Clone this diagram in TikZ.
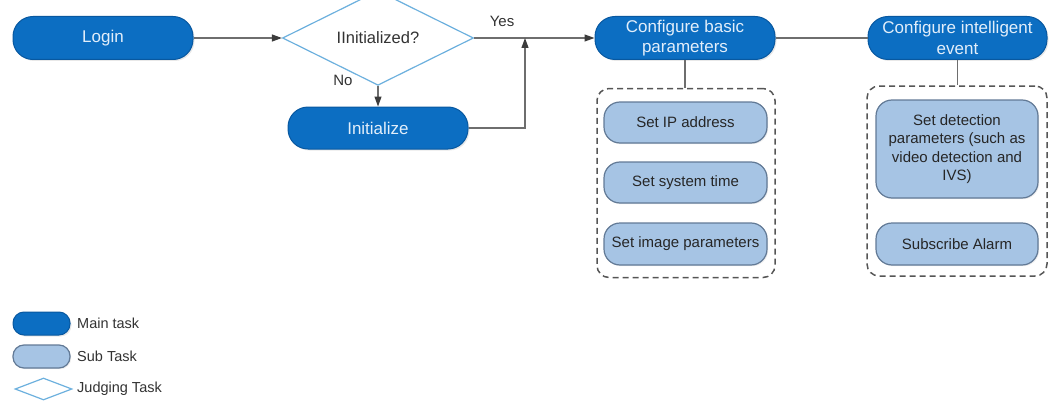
\documentclass[tikz,border=0pt]{standalone}
\usepackage{fontspec}
\setmainfont{Liberation Sans}
\usetikzlibrary{arrows.meta,shapes.geometric,shadows}
\definecolor{mainfill}{RGB}{12,110,194}
\definecolor{maindraw}{RGB}{8,88,160}
\definecolor{maintext}{RGB}{226,238,250}
\definecolor{subfill}{RGB}{166,196,228}
\definecolor{subdraw}{RGB}{98,122,150}
\definecolor{judgedraw}{RGB}{108,176,222}
\definecolor{linegray}{RGB}{110,110,110}
\definecolor{tipgray}{RGB}{60,60,60}
\definecolor{dashgray}{RGB}{85,85,85}
\definecolor{labelgray}{RGB}{50,50,50}
\tikzset{
  mainbox/.style={rectangle, rounded corners=20pt, fill=mainfill, draw=maindraw, line width=1pt,
    text=maintext, align=center, inner sep=0pt, font=\fontsize{17}{20.5}\selectfont,
    drop shadow={opacity=0.18, shadow xshift=1.5pt, shadow yshift=-1.5pt}},
  subbox/.style={rectangle, rounded corners=16pt, fill=subfill, draw=subdraw, line width=1.2pt,
    text=black!85, align=center, inner sep=0pt, minimum width=163pt, font=\fontsize{15}{18.5}\selectfont,
    drop shadow={opacity=0.15, shadow xshift=1.2pt, shadow yshift=-1.2pt}},
  judgebox/.style={diamond, draw=judgedraw, line width=1.2pt, fill=white, inner sep=0pt,
    text=black!80, font=\fontsize{16.5}{19}\selectfont},
  groupbox/.style={rectangle, rounded corners=12pt, draw=dashgray, line width=1.5pt,
    dash pattern=on 6pt off 4pt, inner sep=0pt},
  conn/.style={draw=linegray, line width=1.2pt},
  arrowconn/.style={conn, -{Triangle[length=10pt,width=7pt,fill=tipgray,color=tipgray]}},
  lbl/.style={text=labelgray, inner sep=0pt, font=\fontsize{15}{18}\selectfont},
  legendtext/.style={text=labelgray, inner sep=0pt, anchor=west, font=\fontsize{14.5}{17}\selectfont}
}
\begin{document}
\begin{tikzpicture}[x=1pt,y=-1pt]
\useasboundingbox (0,0) rectangle (1057,404);
% main flow
\node[mainbox, minimum width=180pt, minimum height=43pt] (login) at (103,38) {Login};
\node[judgebox, minimum width=191pt, minimum height=56pt] (judge) at (378,38) {IInitialized?};
\node[mainbox, minimum width=180pt, minimum height=42pt] (init) at (378,128) {Initialize};
\node[mainbox, minimum width=180pt, minimum height=43pt] (basic) at (685,38) {Configure basic\\parameters};
\node[mainbox, minimum width=179pt, minimum height=43pt] (intel) at (957.5,38) {Configure intelligent\\event};
\coordinate (joint) at (525,38);
% groups
\node[groupbox, minimum width=178pt, minimum height=189pt] (g1) at (686,183) {};
\node[groupbox, minimum width=180pt, minimum height=190pt] (g2) at (957,181) {};
% sub tasks
\node[subbox, minimum height=41pt] (ip) at (685.5,122.5) {Set IP address};
\node[subbox, minimum height=41pt] (time) at (685.5,182.5) {Set system time};
\node[subbox, minimum height=42pt] (image) at (685.5,244) {Set image parameters};
\node[subbox, minimum width=162pt, minimum height=98pt] (detect) at (957,149) {Set detection\\parameters (such as\\video detection and\\IVS)};
\node[subbox, minimum width=162pt, minimum height=42pt] (alarm) at (957,244) {Subscribe Alarm};
% connectors
\draw[arrowconn] (login) -- (judge);
\draw[arrowconn] (judge) -- (basic);
\draw[arrowconn] (judge) -- (init);
\draw[arrowconn] (init.east) -| (joint);
\draw[conn] (basic) -- (intel);
\draw[conn] (basic.south) -- (basic.south |- g1.north);
\draw[conn] (intel.south) -- (intel.south |- g2.north);
% labels
\node[lbl] (yes) at (502,21) {Yes};
\node[lbl] (no) at (343,80) {No};
% legend
\node[mainbox, minimum width=57pt, minimum height=23pt, rounded corners=11pt] (lmain) at (41.5,323.5) {};
\node[subbox, minimum width=57pt, minimum height=23pt, rounded corners=11pt] (lsub) at (41.5,356.5) {};
\node[judgebox, minimum width=57pt, minimum height=22pt] (ljudge) at (43.5,389) {};
\node[legendtext] (tmain) at (77,323.5) {Main task};
\node[legendtext] (tsub) at (77,356.5) {Sub Task};
\node[legendtext] (tjudge) at (77,389) {Judging Task};
\end{tikzpicture}
\end{document}
